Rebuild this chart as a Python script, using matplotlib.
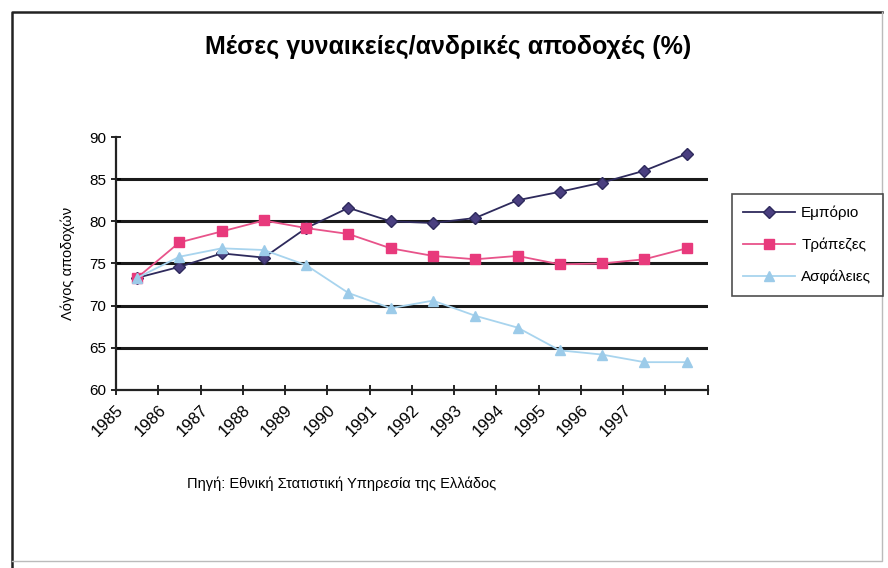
import matplotlib.pyplot as plt
from matplotlib.lines import Line2D
import numpy as np

plt.rcParams['font.family'] = ['Liberation Sans', 'DejaVu Sans']

# λόγος μέσων γυναικείων/ανδρικών αποδοχών ανά κλάδο
years = ['1985', '1986', '1987', '1988', '1989', '1990', '1991', '1992',
         '1993', '1994', '1995', '1996', '1997', '']
emporio = [73.3, 74.6, 76.2, 75.7, 79.2, 81.6, 80.0, 79.8, 80.4, 82.5, 83.5, 84.6, 86.0, 88.0]
trapezes = [73.3, 77.5, 78.8, 80.1, 79.2, 78.5, 76.8, 75.9, 75.5, 75.9, 74.9, 75.0, 75.5, 76.8]
asfaleies = [73.3, 75.8, 76.8, 76.6, 74.8, 71.5, 69.7, 70.6, 68.8, 67.4, 64.7, 64.2, 63.3, 63.3]
yticks = [60, 65, 70, 75, 80, 85, 90]

fig = plt.figure(figsize=(8.88, 5.68), dpi=100)
ax = fig.add_axes([0.1306, 0.3134, 0.6664, 0.4454])

x = np.arange(len(emporio)) + 0.5
ax.plot(x, emporio, color='#2e2a5c', lw=1.3, marker='D', ms=6,
        mfc='#4a3f80', mec='#2e2a5c', label='Εμπόριο')
ax.plot(x, trapezes, color='#e8538a', lw=1.3, marker='s', ms=7,
        mfc='#e83a7c', mec='#e83a7c', label='Τράπεζες')
ax.plot(x, asfaleies, color='#a8d4ee', lw=1.3, marker='^', ms=7,
        mfc='#9ccbe9', mec='#9ccbe9', label='Ασφάλειες')

for g in yticks[1:-1]:
    ax.axhline(g, color='#1a1a1a', lw=2.2, zorder=0)

ax.set_ylim(60, 90)
ax.set_xlim(0, len(emporio))
ax.set_yticks(yticks)
ax.set_xticks(np.arange(len(emporio) + 1))
ax.set_xticklabels(years + [''], rotation=45, ha='right', rotation_mode='anchor')
ax.tick_params(axis='both', direction='inout', length=7, width=1.2, labelsize=11)
ax.tick_params(axis='x', pad=5, labelsize=12)
for s in ['top', 'right']:
    ax.spines[s].set_visible(False)
for s in ['left', 'bottom']:
    ax.spines[s].set_linewidth(1.6)
    ax.spines[s].set_color('#222222')

ax.set_ylabel('Λόγος αποδοχών', fontsize=10.5, labelpad=10)
fig.text(0.385, 0.148, 'Πηγή: Εθνική Στατιστική Υπηρεσία της Ελλάδος',
         ha='center', va='center', fontsize=10.5)
fig.text(0.505, 0.917, 'Μέσες γυναικείες/ανδρικές αποδοχές (%)',
         ha='center', va='center', fontsize=18, fontweight='bold')

leg = fig.legend(loc='upper left', bbox_to_anchor=(0.824, 0.658),
                 fontsize=11, frameon=True, fancybox=False,
                 edgecolor='#222222', borderpad=0.75, labelspacing=1.15,
                 handlelength=3.4, handletextpad=0.4, borderaxespad=0)
leg.get_frame().set_linewidth(1.2)

# πλαίσιο γύρω από όλο το διάγραμμα
fig.lines.append(Line2D([0.014, 0.014, 0.993], [0.0, 0.979, 0.979],
                        transform=fig.transFigure, color='#222222', lw=1.8))
fig.lines.append(Line2D([0.993, 0.993, 0.014], [0.979, 0.012, 0.012],
                        transform=fig.transFigure, color='#bbbbbb', lw=1.0))

fig.savefig('out.png', dpi=100)
